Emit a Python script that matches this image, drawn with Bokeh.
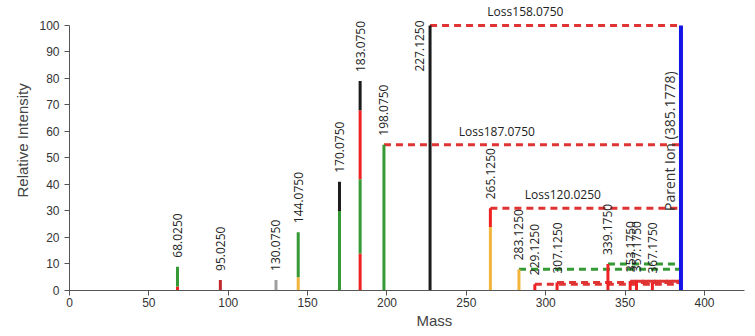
import math
from bokeh.plotting import figure
from bokeh.models import ColumnDataSource, Range1d, FixedTicker, Title
from bokeh.core.properties import value
from bokeh.embed import file_html
from bokeh.resources import INLINE

# ---------------- data ----------------
masses = [68.025, 95.025, 130.075, 144.075, 170.075, 183.075, 198.075, 227.125,
          265.125, 283.125, 293.125, 307.125, 339.175, 353.175, 357.175, 367.175]
labels = ["68.0250", "95.0250", "130.0750", "144.0750", "170.0750", "183.0750",
          "198.0750", "227.1250", "265.1250", "283.1250", "229.1250", "307.1250",
          "339.1750", "353.1750", "357.1750", "367.1750"]
# stacked segment tops (relative intensity) and their colours, per peak
seg_tops = [[1.5, 9], [4], [4], [5, 22], [30, 41], [14, 42, 68, 79], [55], [100],
            [24, 31], [8], [2.4], [3], [10], [3.5], [3.5], [3]]
seg_colors = [["red", "green"], ["darkred"], ["gray"], ["orange", "green"],
              ["green", "black"], ["red", "green", "red", "black"], ["green"], ["black"],
              ["orange", "red"], ["orange"], ["red"], ["red"], ["red"], ["red"], ["red"], ["red"]]

parent_mass = 385.1778
parent_intensity = 100
parent_label = "Parent Ion (385.1778)"

loss_from = [227.125, 198.075, 265.125, 283.125, 293.125, 307.125, 339.175,
             353.175, 357.175, 367.175]
loss_color = ["red", "red", "red", "green", "red", "red", "green", "red", "red", "red"]
loss_text = ["Loss158.0750", "Loss187.0750", "Loss120.0250", "", "", "", "", "", "", ""]

x_ticks = [0, 50, 100, 150, 200, 250, 300, 350, 400]
y_ticks = [0, 10, 20, 30, 40, 50, 60, 70, 80, 90, 100]

PALETTE = {"red": "#ee2222", "darkred": "#c0282d", "green": "#359a35",
           "orange": "#f2b53c", "gray": "#a0a0a0", "black": "#1c1c1c"}
DASH = {"red": "#e03333", "green": "#359a35"}

# ---------------- figure ----------------
p = figure(width=747, height=328, output_backend="svg", toolbar_location=None,
           x_range=Range1d(0, 425.2), y_range=Range1d(0, 109.4),
           min_border_left=69, min_border_right=3, min_border_top=0, min_border_bottom=30)
p.xgrid.visible = False
p.ygrid.visible = False
p.outline_line_color = None
p.background_fill_color = "white"

for ax in (p.xaxis[0], p.yaxis[0]):
    ax.axis_line_color = "#555555"
    ax.major_tick_line_color = "#555555"
    ax.major_tick_out = 5
    ax.major_tick_in = 0
    ax.minor_tick_line_color = None
    ax.major_label_text_font = "Liberation Sans"
    ax.major_label_text_font_size = "12px"
    ax.major_label_text_color = "#333333"
p.xaxis.ticker = FixedTicker(ticks=x_ticks)
p.yaxis.ticker = FixedTicker(ticks=y_ticks)
p.yaxis.bounds = (0, 100)
p.xaxis.major_label_standoff = 2
p.yaxis.major_label_standoff = 5

# axis titles
p.add_layout(Title(text="Relative Intensity", align="left", offset=93, standoff=12,
                   text_font="Liberation Sans", text_font_size="15px",
                   text_font_style="normal", text_color="#444444"), "left")
p.add_layout(Title(text="Mass", align="left", offset=347, standoff=0,
                   text_font="Liberation Sans", text_font_size="15px",
                   text_font_style="normal", text_color="#444444"), "below")

# peak segments
sx, sy0, sy1, sc = [], [], [], []
for m, tops, cols in zip(masses, seg_tops, seg_colors):
    bottom = 0
    for t, c in zip(tops, cols):
        sx.append(m); sy0.append(bottom); sy1.append(t); sc.append(PALETTE[c])
        bottom = t
peak_top = {m: max(t) for m, t in zip(masses, seg_tops)}

# loss dashed lines
lx0, ly, lc = [], [], []
for f, c in zip(loss_from, loss_color):
    lx0.append(f); ly.append(peak_top[f]); lc.append(DASH[c])
p.segment(x0=lx0, y0=ly, x1=[parent_mass] * len(lx0), y1=ly, line_color=lc,
          line_width=3, line_dash="7 5")

p.segment(x0=sx, y0=sy0, x1=sx, y1=sy1, line_color=sc, line_width=3)
p.segment(x0=[parent_mass], y0=[0], x1=[parent_mass], y1=[parent_intensity],
          line_color="#1414e6", line_width=4)

# peak labels
tx, ty, ta, txo, tyo = [], [], [], [], []
for m in masses:
    top = peak_top[m]
    tx.append(m); ty.append(top)
    if top >= 95:
        ta.append("right"); txo.append(-11); tyo.append(-5)
    else:
        ta.append("left"); txo.append(0); tyo.append(-9)
src = ColumnDataSource(dict(x=tx, y=ty, t=labels, a=ta, xo=txo, yo=tyo))
p.text(x="x", y="y", text="t", source=src, angle=math.pi / 2, text_align="a",
       text_baseline="middle", x_offset="xo", y_offset="yo",
       text_font=value("Open Sans"), text_font_size="12px", text_color="#222222")

# loss labels
ltx, lty, ltt = [], [], []
for f, t in zip(loss_from, loss_text):
    if t:
        ltx.append(f + 0.38 * (parent_mass - f)); lty.append(peak_top[f]); ltt.append(t)
p.text(x=ltx, y=lty, text=ltt, text_align="center", text_baseline="bottom", y_offset=-5,
       text_font=value("Open Sans"), text_font_size="12px", text_color="#222222")

# parent label
p.text(x=[parent_mass], y=[parent_intensity * 0.3], text=[parent_label], angle=math.pi / 2,
       text_align="left", text_baseline="bottom", x_offset=-2,
       text_font=value("Open Sans"), text_font_size="14px", text_color="#333333")

open("out.html", "w").write(file_html(p, INLINE))
